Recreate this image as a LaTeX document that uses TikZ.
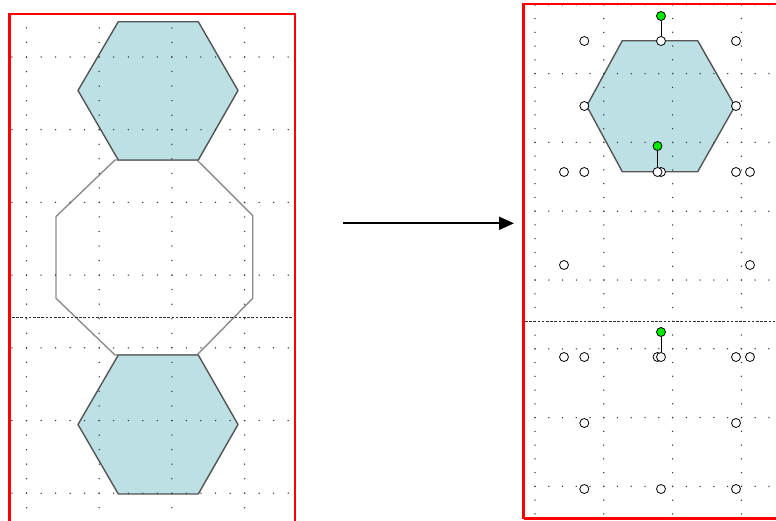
\documentclass[tikz,border=0pt]{standalone}
\usetikzlibrary{arrows.meta}
\definecolor{hexfill}{RGB}{188,224,228}
\definecolor{hexline}{RGB}{85,85,85}
\definecolor{octline}{RGB}{140,140,140}
\definecolor{dotc}{RGB}{50,50,50}
\definecolor{grn}{RGB}{0,235,0}
\definecolor{frame}{RGB}{255,0,0}
\tikzset{
  hexshape/.style={fill=hexfill, draw=hexline, line width=1.4pt, line join=round},
  octshape/.style={draw=octline, line width=1.4pt, line join=round},
  redframe/.style={draw=frame, line width=2.6pt},
  pagebreak/.style={draw=dotc, line width=0.7pt, dash pattern=on 2.6pt off 1.6pt},
  handle/.style={circle, draw=black, fill=white, line width=0.8pt, minimum size=9pt, inner sep=0pt},
  rothandle/.style={circle, draw=black, fill=grn, line width=0.8pt, minimum size=9pt, inner sep=0pt},
  stem/.style={draw=black, line width=1pt},
  flow/.style={line width=2pt, -{Triangle[length=15pt,width=13pt]}},
}
\begin{document}
\begin{tikzpicture}[x=1pt,y=-1pt]
\useasboundingbox (0,0) rectangle (776,520);
\fill[white] (0,0) rectangle (776,520);

% ---------- left panel ----------
\draw[octshape] (115,160) -- (197,160) -- (252.7,215.5) -- (252.7,298.3) -- (197,355) -- (115,355) -- (56,298.3) -- (56,216.5) -- cycle;
\draw[hexshape] (118.3,21.7) -- (198.3,21.7) -- (238,90.5) -- (198.3,160) -- (118.3,160) -- (78,90.5) -- cycle;
\draw[hexshape] (118.3,355) -- (198.3,355) -- (238,424.5) -- (198.3,494) -- (118.3,494) -- (78,424.5) -- cycle;

\begin{scope}
\clip (10.5,15) rectangle (293.5,520);
\foreach \c in {0,...,3} {
  \foreach \j in {-2,...,31} {
    \fill[dotc] ({26.5+72.7*\c},{57+14.54*\j}) circle[radius=0.75pt];
  }
}
\foreach \r in {0,...,6} {
  \foreach \i in {-1,...,18} {
    \fill[dotc] ({26.5+14.54*\i},{57+72.7*\r}) circle[radius=0.75pt];
  }
}
\end{scope}
\draw[pagebreak] (12,317.7) -- (293,317.7);
\draw[redframe] (9.5,530) -- (9.5,14) -- (295,14) -- (295,530);

% ---------- arrow ----------
\coordinate (arrowStart) at (343,223.3);
\coordinate (arrowEnd) at (514,223.3);
\draw[flow] (arrowStart) -- (arrowEnd);

% ---------- right panel ----------
\draw[hexshape] (622.3,40.7) -- (697.7,40.7) -- (735,106) -- (697.7,171.7) -- (622.3,171.7) -- (586.7,106) -- cycle;

\begin{scope}
\clip (525,5) rectangle (776,517.5);
\foreach \c in {0,...,3} {
  \foreach \j in {0,...,37} {
    \fill[dotc] ({535+68.8*\c},{4.8+13.76*\j}) circle[radius=0.75pt];
  }
}
\foreach \r in {0,...,7} {
  \foreach \i in {0,...,17} {
    \fill[dotc] ({535+13.76*\i},{4.8+68.8*\r}) circle[radius=0.75pt];
  }
}
\end{scope}
\draw[pagebreak] (525,321) -- (776,321);
\draw[redframe] (523.5,518.5) -- (523.5,3.8) -- (780,3.8);
\draw[redframe] (523.5,518.5) -- (780,518.5);

% selection handles: top hexagon
\node[handle] (t1) at (584.3,41) {};
\node[handle] (t2) at (661,41) {};
\node[handle] (t3) at (736,41) {};
\node[handle] (t4) at (584.3,106) {};
\node[handle] (t5) at (736,106) {};
\node[handle] (t6) at (584.3,172) {};
\node[handle] (t7) at (661,172) {};
\node[handle] (t8) at (736,172) {};
\node[rothandle] (tg) at (661,16) {};
\draw[stem] (tg) -- (t2);

% selection handles: octagon
\node[handle] (o1) at (564,172) {};
\node[handle] (o2) at (657.5,172) {};
\node[handle] (o3) at (750,172) {};
\node[handle] (o4) at (564,265) {};
\node[handle] (o5) at (750,265) {};
\node[handle] (o6) at (564,357) {};
\node[handle] (o7) at (657.5,357) {};
\node[handle] (o8) at (750,357) {};
\node[rothandle] (og) at (657.5,146) {};
\draw[stem] (og) -- (o2);

% selection handles: bottom hexagon
\node[handle] (b1) at (584.3,357) {};
\node[handle] (b2) at (661,357) {};
\node[handle] (b3) at (736,357) {};
\node[handle] (b4) at (584.3,423) {};
\node[handle] (b5) at (736,423) {};
\node[handle] (b6) at (584.3,489) {};
\node[handle] (b7) at (661,489) {};
\node[handle] (b8) at (736,489) {};
\node[rothandle] (bg) at (661,332) {};
\draw[stem] (bg) -- (b2);
\end{tikzpicture}
\end{document}
